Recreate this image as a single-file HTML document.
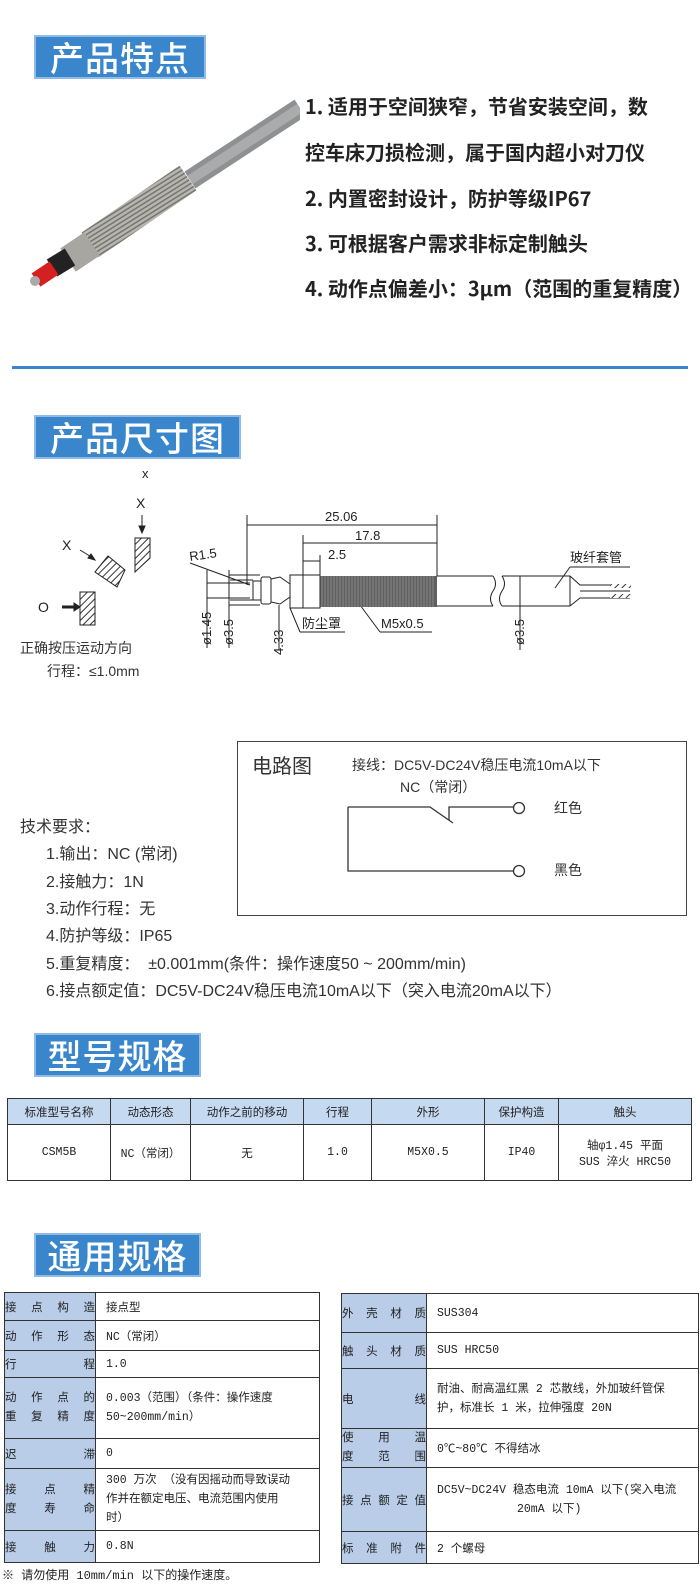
<!DOCTYPE html>
<html><head><meta charset="utf-8"><style>
*{margin:0;padding:0;box-sizing:border-box}
body{width:700px;height:1591px;background:#fff;position:relative;overflow:hidden;font-family:"Liberation Sans","Noto Sans CJK SC",sans-serif;color:#222}
.a{position:absolute;white-space:nowrap}
.hd{position:absolute;background:#3a86cc;color:#fff;font-size:34px;font-family:"Noto Sans CJK SC",sans-serif;font-weight:500;text-align:center;border:2px solid #8fbbe6;letter-spacing:1px}
.ft{position:absolute;left:305px;font-size:20px;font-weight:bold;font-family:"Noto Sans CJK SC",sans-serif;color:#222;white-space:nowrap}
table{border-collapse:collapse;position:absolute;font-family:"Liberation Mono","Noto Sans CJK SC",monospace;font-size:11.5px;color:#222}
td{border:1.5px solid #333}
.t1 td{text-align:center}
.lb{background:#b9cde8}
.tr{font-size:16px;color:#333}
</style></head><body>

<div class="hd" style="left:34px;top:35px;width:172px;height:44px;line-height:40px">产品特点</div>

<svg class="a" style="left:0;top:90px" width="300" height="210" viewBox="0 90 300 210">
<defs>
<pattern id="th" width="4" height="4" patternUnits="userSpaceOnUse" patternTransform="rotate(58)"><rect width="4" height="4" fill="#b7b5b0"/><rect width="1.5" height="4" fill="#77756f"/></pattern></defs>
<line x1="190" y1="180" x2="300" y2="108" stroke="#8e9092" stroke-width="20"/>
<line x1="190" y1="180" x2="300" y2="108" stroke="#a9abad" stroke-width="10"/>
<line x1="90" y1="245" x2="188" y2="178" stroke="url(#th)" stroke-width="30"/>
<line x1="68" y1="260" x2="92" y2="244" stroke="#a8a6a1" stroke-width="28"/>
<line x1="52" y1="268" x2="70" y2="257" stroke="#222" stroke-width="20"/>
<line x1="36" y1="280" x2="54" y2="268" stroke="#d42020" stroke-width="16"/>
<circle cx="35" cy="281" r="5" fill="#aaa"/>
</svg>

<div class="ft" style="top:91px">1. 适用于空间狭窄，节省安装空间，数</div>
<div class="ft" style="top:137px">控车床刀损检测，属于国内超小对刀仪</div>
<div class="ft" style="top:183px">2. 内置密封设计，防护等级IP67</div>
<div class="ft" style="top:228px">3. 可根据客户需求非标定制触头</div>
<div class="ft" style="top:273px">4. 动作点偏差小：3μm（范围的重复精度）</div>

<div class="a" style="left:12px;top:366px;width:676px;height:3px;background:#3a86cc"></div>

<div class="hd" style="left:34px;top:415px;width:207px;height:44px;line-height:40px">产品尺寸图</div>

<svg class="a" style="left:0;top:460px" width="700" height="230" viewBox="0 460 700 230" font-family="Liberation Sans,Noto Sans CJK SC,sans-serif" font-size="13" fill="#222">
<defs><pattern id="h" width="5" height="5" patternUnits="userSpaceOnUse" patternTransform="rotate(45)"><rect width="5" height="5" fill="#fff"/><rect width="1" height="5" fill="#333"/></pattern></defs>
<g stroke="#222" stroke-width="1">
<text x="142" y="478" stroke="none">x</text>
<text x="136" y="508" stroke="none" font-size="14">X</text>
<line x1="142" y1="515" x2="142" y2="530"/><polygon points="139,526 145,526 142,533" fill="#222"/>
<polygon points="135,538 150,538 150,558 135,572" fill="url(#h)"/>
<text x="62" y="550" stroke="none" font-size="14">X</text>
<line x1="80" y1="550" x2="93" y2="558"/><polygon points="88,558 95,560 91,554" fill="#222"/>
<polygon points="95,572 108,556 125,570 117,587" fill="url(#h)"/>
<text x="38" y="612" stroke="none" font-size="14">O</text>
<line x1="62" y1="607" x2="76" y2="607" stroke-width="3"/><polygon points="74,603 80,607 74,611" fill="#222"/>
<rect x="80" y="592" width="15" height="33" fill="url(#h)"/>
</g>
<text x="20" y="653" font-size="14" fill="#333">正确按压运动方向</text>
<text x="47" y="676" font-size="14" fill="#333">行程：≤1.0mm</text>

<g stroke="#222" stroke-width="1" fill="none">
<line x1="247" y1="515" x2="247" y2="585"/>
<line x1="437" y1="515" x2="437" y2="576"/>
<line x1="303" y1="535" x2="303" y2="576"/>
<line x1="320" y1="555" x2="320" y2="576"/>
<line x1="247" y1="525" x2="437" y2="525"/>
<line x1="303" y1="543" x2="437" y2="543"/>
<line x1="303" y1="561" x2="320" y2="561"/>
<line x1="230" y1="580" x2="253" y2="580"/><line x1="230" y1="600" x2="253" y2="600"/>
<rect x="253" y="581" width="8" height="19"/>
<rect x="261" y="577" width="10" height="27" rx="2"/>
<path d="M271,579 L280,577 L290,584 L290,597 L280,604 L271,602"/>
<rect x="290" y="575" width="13" height="33"/>
<rect x="303" y="575" width="17" height="33"/>
<path d="M437,576 L493,576 M437,606 L493,606 M493,576 q5,8 0,15 q-5,8 0,15"/>
<path d="M502,576 L570,576 M502,606 L570,606 M502,576 q5,8 0,15 q-5,8 0,15"/>
<path d="M570,576 L580,585 L630,585 M570,606 L580,598 L630,598 M580,591 L630,591"/>
<line x1="570" y1="576" x2="570" y2="606"/>
<line x1="207" y1="570" x2="207" y2="648"/><line x1="207" y1="583" x2="250" y2="583"/><line x1="207" y1="598" x2="250" y2="598"/>
<line x1="229" y1="570" x2="229" y2="648"/><line x1="229" y1="575" x2="260" y2="575"/><line x1="229" y1="605" x2="260" y2="605"/>
<line x1="279" y1="605" x2="279" y2="650"/>
<line x1="520" y1="576" x2="520" y2="650"/>
<line x1="190" y1="563" x2="250" y2="585"/>
<line x1="290" y1="608" x2="300" y2="632"/><line x1="300" y1="632" x2="345" y2="632"/>
<line x1="360" y1="605" x2="380" y2="632"/><line x1="380" y1="632" x2="432" y2="632"/>
<line x1="555" y1="588" x2="570" y2="567"/><line x1="570" y1="567" x2="630" y2="567"/>
</g>
<rect x="610" y="584" width="21" height="4" fill="url(#h)"/><rect x="610" y="594" width="21" height="4" fill="url(#h)"/>
<rect x="320" y="576" width="117" height="31" fill="#444" opacity=".85"/>
<g stroke="#888" stroke-width="1"><path d="M322,576 v31 M325,576 v31 M328,576 v31 M331,576 v31 M334,576 v31 M337,576 v31 M340,576 v31 M343,576 v31 M346,576 v31 M349,576 v31 M352,576 v31 M355,576 v31 M358,576 v31 M361,576 v31 M364,576 v31 M367,576 v31 M370,576 v31 M373,576 v31 M376,576 v31 M379,576 v31 M382,576 v31 M385,576 v31 M388,576 v31 M391,576 v31 M394,576 v31 M397,576 v31 M400,576 v31 M403,576 v31 M406,576 v31 M409,576 v31 M412,576 v31 M415,576 v31 M418,576 v31 M421,576 v31 M424,576 v31 M427,576 v31 M430,576 v31 M433,576 v31"/></g>
<text x="325" y="521">25.06</text>
<text x="355" y="540">17.8</text>
<text x="328" y="559">2.5</text>
<text x="190" y="561" transform="rotate(-8 190 561)">R1.5</text>
<text x="302" y="628">防尘罩</text>
<text x="381" y="628">M5x0.5</text>
<text x="570" y="562">玻纤套管</text>
<text x="0" y="0" transform="translate(211,645) rotate(-90)">ø1.45</text>
<text x="0" y="0" transform="translate(233,645) rotate(-90)">ø3.5</text>
<text x="0" y="0" transform="translate(283,655) rotate(-90)">4.33</text>
<text x="0" y="0" transform="translate(524,645) rotate(-90)">ø3.5</text>
</svg>

<div class="a" style="left:237px;top:741px;width:450px;height:175px;border:1.5px solid #444"></div>
<div class="a" style="left:252px;top:750px;font-size:20px;color:#333">电路图</div>
<div class="a" style="left:352px;top:755px;font-size:14px;color:#333">接线：DC5V-DC24V稳压电流10mA以下</div>
<div class="a" style="left:400px;top:777px;font-size:14px;color:#333">NC（常闭）</div>
<svg class="a" style="left:0;top:0" width="700" height="1000">
<g stroke="#333" stroke-width="1.3" fill="none">
<path d="M348,807 V871 H514"/>
<path d="M348,807 H430 L453,823"/>
<path d="M449,820 V807 H514"/>
<circle cx="519" cy="808" r="5.5"/><circle cx="519" cy="871" r="5.5"/>
</g></svg>
<div class="a" style="left:554px;top:798px;font-size:14px;color:#333">红色</div>
<div class="a" style="left:554px;top:860px;font-size:14px;color:#333">黑色</div>

<div class="a tr" style="left:20px;top:813px">技术要求：</div>
<div class="a tr" style="left:46px;top:840px">1.输出：NC (常闭)</div>
<div class="a tr" style="left:46px;top:868px">2.接触力：1N</div>
<div class="a tr" style="left:46px;top:895px">3.动作行程：无</div>
<div class="a tr" style="left:46px;top:922px">4.防护等级：IP65</div>
<div class="a tr" style="left:46px;top:950px">5.重复精度：&nbsp; ±0.001mm(条件：操作速度50 ~ 200mm/min)</div>
<div class="a tr" style="left:46px;top:977px">6.接点额定值：DC5V-DC24V稳压电流10mA以下（突入电流20mA以下）</div>

<div class="hd" style="left:34px;top:1033px;width:167px;height:44px;line-height:40px">型号规格</div>

<table class="t1" style="left:7px;top:1098px;width:685px">
<tr style="height:26px;background:#c5d9f1"><td style="width:103px">标准型号名称</td><td style="width:80px">动态形态</td><td style="width:113px">动作之前的移动</td><td style="width:68px">行程</td><td style="width:113px">外形</td><td style="width:74px">保护构造</td><td>触头</td></tr>
<tr style="height:56px"><td>CSM5B</td><td>NC（常闭）</td><td>无</td><td>1.0</td><td>M5X0.5</td><td>IP40</td><td>轴φ1.45 平面<br>SUS 淬火 HRC50</td></tr>
</table>

<div class="hd" style="left:34px;top:1233px;width:167px;height:44px;line-height:40px">通用规格</div>

<table style="left:4px;top:1292px;width:316px">
<tr style="height:28px"><td class="lb" style="width:91px;text-align-last:justify">接点构造</td><td style="padding-left:10px">接点型</td></tr>
<tr style="height:30px"><td class="lb" style="text-align-last:justify">动作形态</td><td style="padding-left:10px">NC（常闭）</td></tr>
<tr style="height:27px"><td class="lb" style="text-align-last:justify">行程</td><td style="padding-left:10px">1.0</td></tr>
<tr style="height:61px"><td class="lb" style="text-align-last:justify;line-height:19px">动作点的<br>重复精度</td><td style="padding-left:10px;line-height:19px">0.003（范围）（条件：操作速度<br>50~200mm/min）</td></tr>
<tr style="height:30px"><td class="lb" style="text-align-last:justify">迟滞</td><td style="padding-left:10px">0</td></tr>
<tr style="height:62px"><td class="lb" style="text-align-last:justify;line-height:19px">接点精<br>度寿命</td><td style="padding-left:10px;line-height:19px">300 万次 （没有因摇动而导致误动<br>作并在额定电压、电流范围内使用<br>时）</td></tr>
<tr style="height:32px"><td class="lb" style="text-align-last:justify">接触力</td><td style="padding-left:10px">0.8N</td></tr>
</table>

<table style="left:341px;top:1293px;width:358px">
<tr style="height:39px"><td class="lb" style="width:85px;text-align-last:justify">外壳材质</td><td style="padding-left:10px">SUS304</td></tr>
<tr style="height:36px"><td class="lb" style="text-align-last:justify">触头材质</td><td style="padding-left:10px">SUS HRC50</td></tr>
<tr style="height:60px"><td class="lb" style="text-align-last:justify">电线</td><td style="padding-left:10px;line-height:19px">耐油、耐高温红黑 2 芯散线，外加玻纤管保<br>护，标准长 1 米，拉伸强度 20N</td></tr>
<tr style="height:39px"><td class="lb" style="text-align-last:justify;line-height:19px">使用温<br>度范围</td><td style="padding-left:10px">0℃~80℃ 不得结冰</td></tr>
<tr style="height:64px"><td class="lb" style="text-align-last:justify">接点额定值</td><td style="padding-left:10px;line-height:19px">DC5V~DC24V 稳态电流 10mA 以下(突入电流<br><span style="padding-left:80px">20mA 以下)</span></td></tr>
<tr style="height:32px"><td class="lb" style="text-align-last:justify">标准附件</td><td style="padding-left:10px">2 个螺母</td></tr>
</table>

<div class="a" style="left:2px;top:1566px;font-size:12px;font-family:'Liberation Mono','Noto Sans CJK SC',monospace">※ 请勿使用 10mm/min 以下的操作速度。</div>
</body></html>
